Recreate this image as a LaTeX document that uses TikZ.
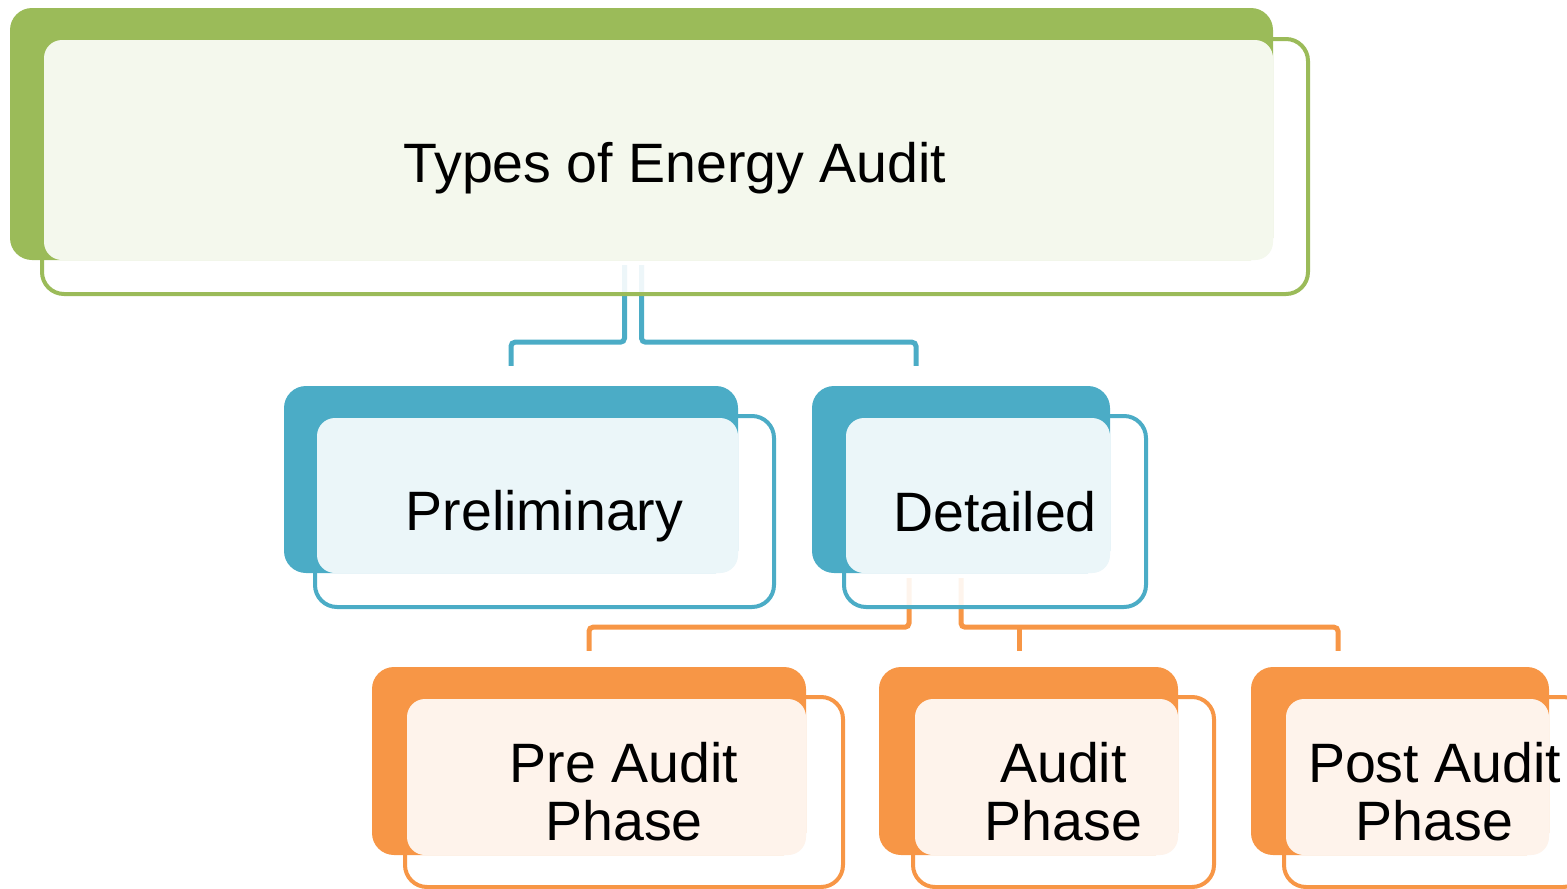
\documentclass[tikz,border=0pt]{standalone}
\usepackage{fontspec}
\setmainfont{Liberation Sans}
\usetikzlibrary{backgrounds}
\definecolor{auditgreen}{HTML}{9BBB59}
\definecolor{auditblue}{HTML}{4BACC6}
\definecolor{auditorange}{HTML}{F79646}
\tikzset{
  wh/.style 2 args={minimum width=#1pt,minimum height=#2pt},
  back/.style={rectangle,rounded corners=22pt,fill=#1,inner sep=0pt},
  front/.style={rectangle,rounded corners=22pt,draw=#1,line width=4pt,
    fill=white,fill opacity=0.9,inner sep=0pt},
  tint/.style={rectangle,rounded corners=18pt,fill=#1!11,inner sep=0pt},
  boxtext/.style={font=\fontsize{55.5}{58}\selectfont,align=center},
  link/.style={draw=#1,line width=5pt,rounded corners=4pt},
}
\begin{document}
\begin{tikzpicture}[x=1pt,y=-1pt]
\useasboundingbox (0,0) rectangle (1567,889);
\clip (0,0) rectangle (1567,889);
% top level
\node[front=auditgreen,wh={1266}{255}] (topfront) at (675,166.5) {};
\node[back=auditgreen,wh={1263}{252}] (topback) at (641.5,134) {};
\node[tint=auditgreen,wh={1229}{220}] (toptint) at (658.5,150) {};
\node[boxtext] (top) at (675,168) {Types of Energy Audit};
% second level
\node[front=auditblue,wh={459}{191}] (prelfront) at (544.5,511.5) {};
\node[back=auditblue,wh={454}{187}] (prelback) at (511,479.5) {};
\node[tint=auditblue,wh={421}{155}] (preltint) at (527.5,495.5) {};
\node[boxtext,yshift=-5pt] (prel) at (prelfront) {Preliminary};
\node[front=auditblue,wh={302}{191}] (detfront) at (995,511.5) {};
\node[back=auditblue,wh={298}{187}] (detback) at (961,479.5) {};
\node[tint=auditblue,wh={264}{155}] (dettint) at (978,495.5) {};
\node[boxtext] (det) at (detfront) {Detailed};
% third level
\node[front=auditorange,wh={438}{190}] (prefront) at (624,792) {};
\node[back=auditorange,wh={434}{188}] (preback) at (589,761) {};
\node[tint=auditorange,wh={399}{156}] (pretint) at (606.5,777) {};
\node[boxtext] (pre) at (prefront) {Pre Audit\\Phase};
\node[front=auditorange,wh={301}{190}] (auditfront) at (1063.5,792) {};
\node[back=auditorange,wh={299}{188}] (auditback) at (1028.5,761) {};
\node[tint=auditorange,wh={263}{156}] (audittint) at (1046.5,777) {};
\node[boxtext] (audit) at (auditfront) {Audit\\Phase};
\node[front=auditorange,wh={301}{190}] (postfront) at (1434.5,792) {};
\node[back=auditorange,wh={298}{188}] (postback) at (1400,761) {};
\node[tint=auditorange,wh={263}{156}] (posttint) at (1417.5,777) {};
\node[boxtext] (post) at (postfront) {Post Audit\\Phase};
% connectors go under the boxes
\begin{scope}[on background layer]
\draw[link=auditblue] ([xshift=-17pt,yshift=-5pt]topback.south) -- ++(0,77)
  -| ([yshift=20pt]prelback.north);
\draw[link=auditblue] ([yshift=-5pt]topback.south) -- ++(0,77)
  -| ([xshift=-45pt,yshift=20pt]detback.north);
\draw[link=auditorange] ([xshift=-52pt,yshift=-5pt]detback.south) -- ++(0,49)
  -| ([yshift=16pt]preback.north);
\draw[link=auditorange] ([yshift=-5pt]detback.south) -- ++(0,49)
  -| ([xshift=-62pt,yshift=16pt]postback.north);
\draw[link=auditorange] ([xshift=-9.5pt,yshift=16pt]auditback.north) -- ++(0,-24);
\end{scope}
\end{tikzpicture}
\end{document}
